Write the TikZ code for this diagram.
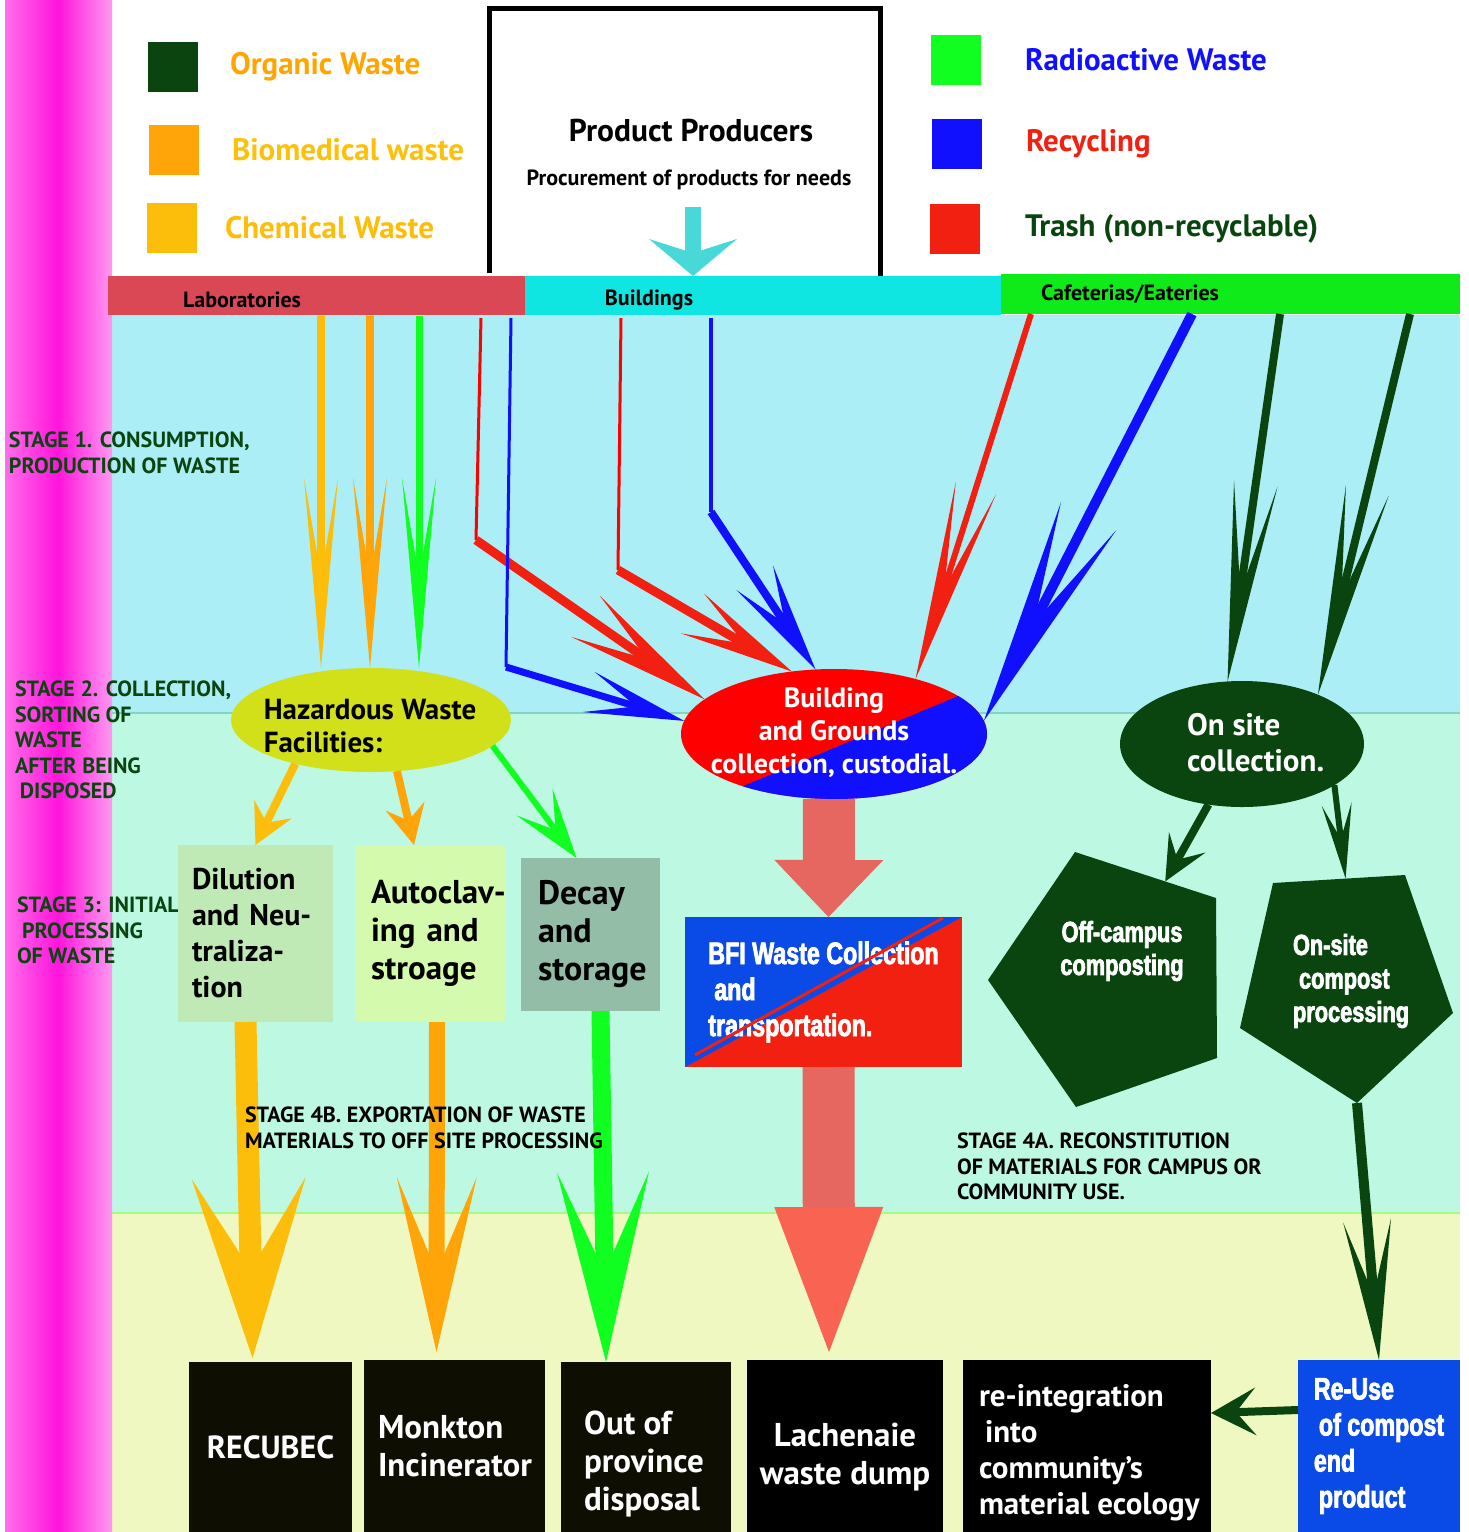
\documentclass[tikz,border=0pt]{standalone}
\usepackage{fontspec}
\setmainfont{PT Sans}
\newfontfamily\impactfont[FakeStretch=0.75,FakeBold=2.5]{Liberation Sans}
\usetikzlibrary{arrows.meta}
\usetikzlibrary{shapes.geometric}
\usetikzlibrary{calc}
\definecolor{pinkcore}{RGB}{255,20,220}
\definecolor{pinkedge}{RGB}{255,110,235}
\definecolor{bandone}{RGB}{171,238,245}
\definecolor{bandtwo}{RGB}{189,248,227}
\definecolor{bandthree}{RGB}{239,248,192}
\definecolor{labred}{RGB}{219,72,85}
\definecolor{bldcyan}{RGB}{15,230,225}
\definecolor{cafgreen}{RGB}{15,234,25}
\definecolor{dkgreen}{RGB}{10,69,16}
\definecolor{bioc}{RGB}{255,165,10}
\definecolor{chemc}{RGB}{252,190,10}
\definecolor{radc}{RGB}{16,255,32}
\definecolor{recc}{RGB}{16,16,255}
\definecolor{trashc}{RGB}{242,32,16}
\definecolor{hazfill}{RGB}{210,224,26}
\definecolor{dilfill}{RGB}{192,234,181}
\definecolor{autofill}{RGB}{212,250,174}
\definecolor{decayfill}{RGB}{148,189,168}
\definecolor{bfiblue}{RGB}{10,74,230}
\definecolor{salmon}{RGB}{229,103,95}
\definecolor{salmonhead}{RGB}{249,100,82}
\definecolor{sinkblack}{RGB}{14,14,3}
\definecolor{ppcyan}{RGB}{72,216,216}
\definecolor{orgtext}{RGB}{255,165,0}
\definecolor{biotext}{RGB}{252,193,10}
\newcommand\legendkey[7]{\fill[#3] (#1,#2) rectangle ++(50,50);\node[legendtxt,text=#6] (#5) at (#4,#2+25) {#7};}

\begin{document}
\begin{tikzpicture}[x=1pt,y=-1pt,
  every node/.style={inner sep=0pt,outer sep=0pt},
  legendtxt/.style={anchor=west,font=\bfseries\fontsize{31}{36}\selectfont},
  bartxt/.style={font=\bfseries\fontsize{22}{26}\selectfont},
  stagetxt/.style={anchor=north west,align=left,text=dkgreen,font=\bfseries\fontsize{22}{25.5}\selectfont},
  procbox/.style={anchor=north west,align=left,font=\bfseries\fontsize{30}{36}\selectfont},
  sinkbox/.style={anchor=north west,fill=sinkblack,text=white,align=left,font=\bfseries\fontsize{33}{38}\selectfont},
  sinktxt/.style={text=white,align=left,font=\bfseries\fontsize{33}{38}\selectfont},
  bigtxt/.style={text=white,align=left,font=\impactfont\bfseries\fontsize{31}{36}\selectfont},
  spike/.style n args={3}{-{Stealth[length=#1pt,width=#2pt,inset=#3pt,line width=0pt]}},
  ]
\useasboundingbox (0,0) rectangle (1469,1532);

\fill[bandone] (108,315) rectangle (1460,713);
\fill[bandtwo] (108,713) rectangle (1460,1213);
\fill[bandthree] (108,1213) rectangle (1460,1532);
\draw[line width=2pt,color=bandtwo!70!teal] (108,713) -- (1460,713);
\draw[line width=2pt,color=bandthree!70!green] (108,1213) -- (1460,1213);
\shade[left color=pinkedge,right color=pinkcore] (5,0) rectangle (58,1532);
\shade[left color=pinkcore,right color=pinkedge!70!white] (58,0) rectangle (112,1532);

\legendkey{148}{42}{dkgreen}{230}{orgkey}{orgtext}{Organic Waste}
\legendkey{149}{125}{bioc}{232}{biokey}{biotext}{Biomedical waste}
\legendkey{147}{203}{chemc}{225}{chemkey}{chemc}{Chemical Waste}
\legendkey{931}{35}{radc}{1025}{radkey}{recc}{Radioactive Waste}
\legendkey{932}{119}{recc}{1026}{reckey}{trashc}{Recycling}
\legendkey{930}{204}{trashc}{1025}{trashkey}{dkgreen}{Trash (non-recyclable)}

\draw[line width=5pt] (489,273) -- (489,8) -- (880,8) -- (880,276);
\node[font=\bfseries\fontsize{31.5}{36}\selectfont] (pptitle) at (691,131) {Product Producers};
\node[font=\bfseries\fontsize{22}{26}\selectfont] (ppsub) at (689,180) {Procurement of products for needs};

\node[anchor=north west,fill=labred,minimum width=417pt,minimum height=39pt] (labbar) at (108,276) {};
\node[anchor=north west,fill=bldcyan,minimum width=476pt,minimum height=39pt] (bldbar) at (525,276) {};
\node[anchor=north west,fill=cafgreen,minimum width=459pt,minimum height=40pt] (cafbar) at (1001,274) {};
\node[bartxt] (labtxt) at (242,300) {Laboratories};
\node[bartxt] (bldtxt) at (649,300) {Buildings};
\node[bartxt] (caftxt) at (1130,294) {Cafeterias/Eateries};
\coordinate (ppin) at (693,207);
\draw[ppcyan,line width=16pt,spike={37}{88}{14}] (ppin) -- (ppin |- bldbar.north);

\node[stagetxt] (stage1) at (9,432) {STAGE 1. CONSUMPTION,\\PRODUCTION OF WASTE};
\node[stagetxt] (stage2) at (15,681) {STAGE 2. COLLECTION,\\SORTING OF\\WASTE\\AFTER BEING\\\hspace{5pt}DISPOSED};
\node[stagetxt] (stage3) at (17,897) {STAGE 3: INITIAL\\\hspace{5pt}PROCESSING\\OF WASTE};

\node[ellipse,fill=hazfill,minimum width=280pt,minimum height=104pt] (haz) at (371,720) {};
\node[align=left,font=\bfseries\fontsize{29}{33}\selectfont] (hazt) at (370,726) {Hazardous Waste\\Facilities:};
\node[ellipse,fill=red,minimum width=306pt,minimum height=130pt,path picture={
  \fill[recc] ([shift={(-160,81)}]path picture bounding box.center) -- ([shift={(160,-53)}]path picture bounding box.center)
    -- ([shift={(160,90)}]path picture bounding box.center) -- ([shift={(-160,90)}]path picture bounding box.center) -- cycle;}] (bldg) at (834,734) {};
\node[align=center,text=white,font=\bfseries\fontsize{28}{33}\selectfont] (bldgt) at (834,733) {Building\\and Grounds\\collection, custodial.};
\node[ellipse,fill=dkgreen,minimum width=244pt,minimum height=126pt] (onsite) at (1242,744) {};
\node[anchor=west,align=left,text=white,font=\bfseries\fontsize{31}{36}\selectfont] (onsitet) at (1187,743) {On site\\collection.};

\node[procbox,fill=dilfill,minimum width=155pt,minimum height=177pt,text width=127pt,inner xsep=14pt] (dil) at (178,845) {Dilution\\and Neu-\\traliza-\\tion};
\node[procbox,fill=autofill,minimum width=150pt,minimum height=177pt,text width=118pt,inner xsep=16pt,font=\bfseries\fontsize{33}{38}\selectfont] (auto) at (355,845) {\mbox{Autoclav-}\\ing and\\stroage};
\node[procbox,fill=decayfill,minimum width=139pt,minimum height=153pt,text width=105pt,inner xsep=17pt,font=\bfseries\fontsize{34}{38}\selectfont] (decay) at (521,858) {Decay\\and\\storage};
\node[anchor=north west,fill=trashc,minimum width=277pt,minimum height=150pt,bigtxt,path picture={
  \fill[bfiblue] (path picture bounding box.south west) -- (path picture bounding box.north west) -- (path picture bounding box.north east) -- cycle;}] (bfi) at (685,917) {BFI Waste Collection\\\hspace{6pt}and\\transportation.};
\draw[trashc,line width=3pt] ([shift={(10,-12)}]bfi.south west) -- ([shift={(-19,1)}]bfi.north east);

\coordinate (offa) at (1075,852);
\coordinate (offb) at (1216,898);
\coordinate (offc) at (1217,1058);
\coordinate (offd) at (1076,1107);
\coordinate (offe) at (988,980);
\fill[dkgreen] (offa) -- (offb) -- (offc) -- (offd) -- (offe) -- cycle;
\node[bigtxt,align=center,font=\impactfont\bfseries\fontsize{29}{33}\selectfont] (offt) at (1122,951) {Off-campus\\composting};
\coordinate (ona) at (1273,883);
\coordinate (onb) at (1405,875);
\coordinate (onc) at (1453,1013);
\coordinate (ond) at (1357,1103);
\coordinate (one) at (1240,1028);
\fill[dkgreen] (ona) -- (onb) -- (onc) -- (ond) -- (one) -- cycle;
\node[bigtxt,anchor=west,font=\impactfont\bfseries\fontsize{29}{33.5}\selectfont] (ont) at (1293,981) {On-site\\\hspace{6pt}compost\\processing};

\node[sinkbox,minimum width=163pt,minimum height=170pt,align=center,font=\bfseries\fontsize{32}{38}\selectfont] (recu) at (189,1362) {RECUBEC};
\node[sinkbox,minimum width=181pt,minimum height=172pt,text width=153pt,inner xsep=14pt] (monk) at (364,1360) {Monkton\\Incinerator};
\node[sinkbox,minimum width=170pt,minimum height=170pt] (outp) at (561,1362) {};
\node[sinktxt,anchor=west] (outpt) at ([xshift=23pt,yshift=-17pt]outp.west) {Out of\\province\\disposal};
\node[sinkbox,fill=black,minimum width=196pt,minimum height=172pt] (lach) at (747,1360) {};
\node[sinktxt,align=center] (lacht) at ([yshift=-11pt]lach.center) {Lachenaie\\waste dump};
\node[sinkbox,fill=black,minimum width=248pt,minimum height=172pt] (reint) at (963,1360) {};
\node[sinktxt,anchor=west,font=\bfseries\fontsize{31}{36}\selectfont] (reintt) at ([xshift=16pt,yshift=-7pt]reint.west) {re-integration\\\hspace{6pt}into\\community’s\\material ecology};
\node[anchor=north west,fill=bfiblue,minimum width=162pt,minimum height=172pt,bigtxt] (reuse) at (1298,1360) {Re-Use\\\hspace{5pt}of compost\\end\\\hspace{5pt}product};

\coordinate (labA) at (321,316);
\coordinate (labB) at (370,316);
\coordinate (labC) at (419,316);
\coordinate (labD) at (481,318);
\coordinate (labDk) at (476,540);
\coordinate (labE) at (511,318);
\coordinate (labEk) at (506,667);
\coordinate (bldA) at (621,318);
\coordinate (bldAk) at (618,570);
\coordinate (bldB) at (711,318);
\coordinate (bldBk) at (711,512);
\coordinate (cafA) at (1031,314);
\coordinate (cafB) at (1192,314);
\coordinate (cafC) at (1280,314);
\coordinate (cafD) at (1410,314);

\draw[chemc,line width=8pt,spike={190}{34}{98}] (labA) -- (labA |- haz.north);
\draw[bioc,line width=8pt,spike={190}{34}{98}] (labB) -- (labB |- haz.north);
\draw[radc,line width=7pt,spike={190}{34}{98}] (labC) -- (labC |- haz.north);
\draw[red,line width=3pt] (labD) -- (labDk);
\draw[trashc,line width=9pt,spike={145}{50}{75}] (labDk) -- (bldg.165);
\draw[recc,line width=3pt] (labE) -- (labEk);
\draw[recc,line width=7pt,spike={100}{42}{50}] (labEk) -- (bldg.175);
\draw[red,line width=3pt] (bldA) -- (bldAk);
\draw[trashc,line width=9pt,spike={115}{46}{60}] (bldAk) -- (bldg.124);
\draw[recc,line width=3.5pt] (bldB) -- (bldBk);
\draw[recc,line width=8pt,spike={110}{44}{55}] (bldBk) -- (bldg.106);
\draw[trashc,line width=6pt,spike={200}{42}{105}] (cafA) -- (bldg.34);
\draw[recc,line width=10pt,spike={230}{62}{120}] (cafB) -- (bldg.5);
\draw[dkgreen,line width=8pt,spike={200}{44}{110}] (cafC) -- (onsite.103);
\draw[dkgreen,line width=8pt,spike={210}{44}{110}] (cafD) -- (onsite.33);

\draw[chemc,line width=8pt,spike={40}{42}{15}] (haz.210) -- (dil.north);
\draw[bioc,line width=8pt,spike={40}{40}{15}] (haz.297) -- ([xshift=-16pt]auto.north);
\draw[radc,line width=6pt,spike={70}{45}{35}] (haz.348) -- ([xshift=-14pt]decay.north);
\draw[chemc,line width=22pt,spike={180}{114}{92}] ([xshift=-10pt]dil.south) -- ([xshift=-18pt,yshift=4pt]recu.north);
\draw[bioc,line width=16pt,spike={175}{80}{95}] ([xshift=7pt]auto.south) -- ([xshift=-18pt,yshift=8pt]monk.north);
\draw[radc,line width=18pt,spike={190}{92}{100}] ([xshift=10pt]decay.south) -- ([xshift=-40pt]outp.north);
\draw[salmon,line width=52pt,-{Triangle[length=57pt,width=109pt,line width=0pt]}] ([xshift=-5pt]bldg.south) -- ([xshift=5pt]bfi.north);
\draw[salmon,line width=52pt,-{Triangle[length=145pt,width=109pt,line width=0pt,fill=salmonhead]}] ([xshift=5pt]bfi.south) -- ([xshift=-16pt,yshift=8pt]lach.north);

\draw[dkgreen,line width=8pt,spike={45}{42}{20}] (onsite.241) -- ($(offa)!0.64!(offb)$);
\draw[dkgreen,line width=6pt,spike={75}{30}{35}] (onsite.336) -- ($(ona)!0.55!(onb)$);
\draw[dkgreen,line width=10pt,spike={140}{48}{75}] (ond) -- (reuse.north);
\draw[dkgreen,line width=8pt,spike={45}{48}{20}] ([yshift=36pt]reuse.west) -- ([yshift=33pt]reint.east);

\node[stagetxt,text=black] (stage4b) at (245,1107) {STAGE 4B. EXPORTATION OF WASTE\\MATERIALS TO OFF SITE PROCESSING};
\node[stagetxt,text=black] (stage4a) at (957,1133) {STAGE 4A. RECONSTITUTION\\OF MATERIALS FOR CAMPUS OR\\COMMUNITY USE.};
\end{tikzpicture}
\end{document}
